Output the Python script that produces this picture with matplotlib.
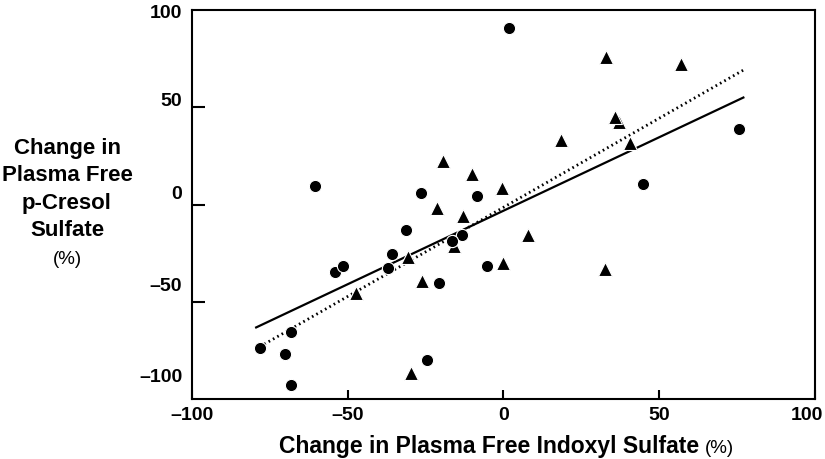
import matplotlib
matplotlib.use("Agg")
import matplotlib.pyplot as plt
from matplotlib.transforms import ScaledTranslation

plt.rcParams['font.family'] = ['Liberation Sans', 'DejaVu Sans']

# triangles (one group)
tri_x = [-19.3, -10.1, -21.4, -13.1, 32.9, 57.0, 37.2, 35.9, 18.5, 40.5,
         -0.4, -47.5, -30.8, -26.3, -29.7, -15.9, -0.3, 7.8, 32.5]
tri_y = [22.3, 15.5, -1.7, -5.9, 75.6, 72.2, 42.4, 45.0, 33.0, 31.6,
         8.6, -45.7, -27.2, -39.2, -86.4, -21.1, -30.2, -15.6, -33.2]

# circles (other group)
circ_x = [-60.5, -26.4, -8.4, 1.7, 75.5, 44.9, -78.2, -68.2, -70.2, -68.1,
          -54.0, -51.6, -37.0, -35.9, -31.2, -20.7, -24.7, -13.3, -16.4, -5.2]
circ_y = [9.4, 5.8, 4.6, 90.9, 38.8, 10.5, -73.9, -65.5, -77.0, -92.8,
          -34.7, -31.8, -32.8, -25.4, -13.0, -40.4, -79.7, -15.6, -18.9, -31.8]

# regression lines, end points
solid_x = [-79.4, 77.0]
solid_y = [-63.2, 55.0]
dot_x = [-76.8, 77.0]
dot_y = [-71.8, 69.1]

xticks = [-100, -50, 0, 50, 100]
xlabels = ['\u2013100', '\u201350', '0', '50', '100']
yticks = [-50, 0, 50]
ylabels = ['\u2013100', '\u201350', '0', '50', '100']
ylabel_pos = [-88, -41, 6, 54, 99]   # labels sit a bit above the marks in the original

fig = plt.figure(figsize=(8.25, 4.59), dpi=100)
ax = fig.add_axes([0.2327, 0.1307, 0.7552, 0.8475])

ax.plot(solid_x, solid_y, color='black', lw=1.6, zorder=2)
ax.plot(dot_x, dot_y, color='black', lw=2, linestyle=(0, (0.6, 1.2)), zorder=2)

ax.plot(tri_x, tri_y, linestyle='none', marker='^', ms=9.5, color='black',
        mec='white', mew=0.8, zorder=3)
ax.plot(circ_x, circ_y, linestyle='none', marker='o', ms=8.8, color='black',
        mec='white', mew=0.8, zorder=4)

ax.set_xlim(-100, 100)
ax.set_ylim(-100, 100)

ax.set_xticks(xticks)
ax.set_xticklabels(xlabels)
ax.tick_params(axis='x', direction='in', length=6.5, width=1.5, pad=6,
               labelsize=14)

ax.set_yticks(ylabel_pos)
ax.set_yticklabels(ylabels)
ax.set_yticks(yticks, minor=True)
ax.tick_params(axis='y', which='major', length=0, pad=7, labelsize=14)
ax.tick_params(axis='y', which='minor', direction='in', length=9.5, width=1.5)

for lab in ax.get_xticklabels() + ax.get_yticklabels():
    lab.set_fontweight('bold')

# the last x label is pulled in a little so it stays inside the figure
last = ax.get_xticklabels()[-1]
last.set_transform(last.get_transform() + ScaledTranslation(-0.08, 0, fig.dpi_scale_trans))

for s in ax.spines.values():
    s.set_linewidth(1.5)

fig.text(67 / 825, 1 - 189.5 / 459, 'Change in\nPlasma Free\np-Cresol\nSulfate',
         ha='center', va='center', fontsize=16, fontweight='bold',
         linespacing=1.4)
fig.text(67 / 825, 1 - 259 / 459, '(%)', ha='center', va='center', fontsize=13.5)

fig.text(699 / 825, 1 - 453 / 459, 'Change in Plasma Free Indoxyl Sulfate',
         ha='right', va='baseline', fontsize=16.5, fontweight='bold')
fig.text(705 / 825, 1 - 453 / 459, '(%)', ha='left', va='baseline', fontsize=13.5)

fig.savefig('out.png', dpi=100)
